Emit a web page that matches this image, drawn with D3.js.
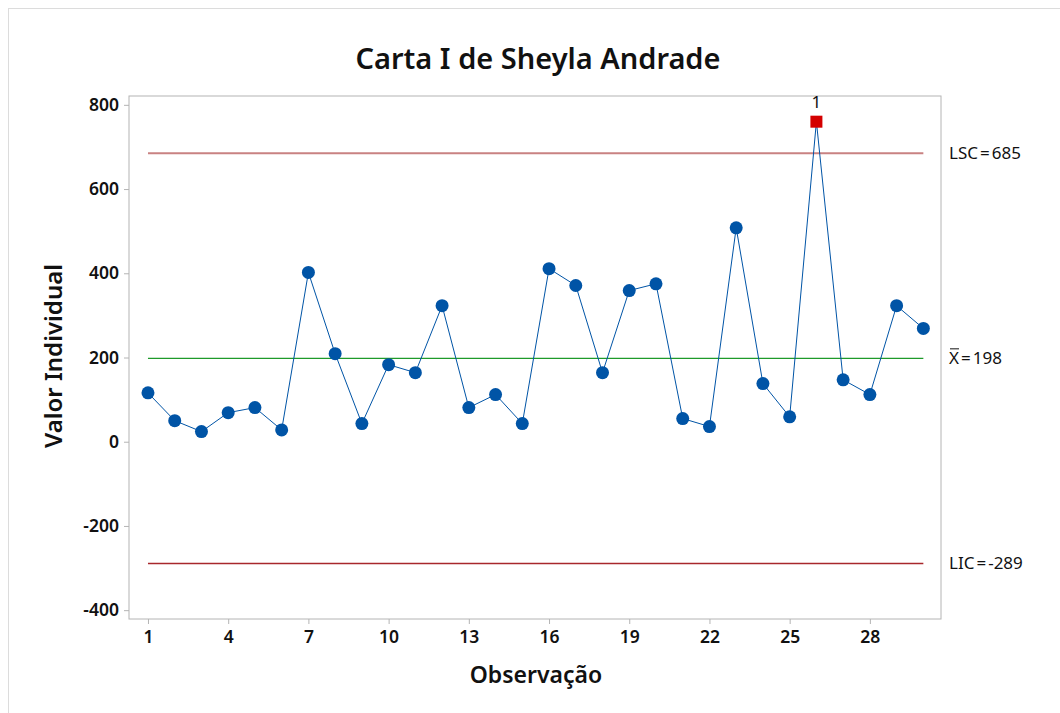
<!DOCTYPE html>
<html>
<head>
<meta charset="utf-8">
<script src="https://cdn.jsdelivr.net/npm/d3@7"></script>
<style>
	body { margin: 0; background: #fff; }
	svg { display: block; font-family: "Noto Sans", "Open Sans", sans-serif; }
</style>
</head>
<body>
<svg id="chart" width="1060" height="713"></svg>
<script>
// observacoes (Carta I)
var observations = d3.range(1, 31);
var values = [116, 50, 24, 69, 81, 28, 402, 209, 43, 183,
	164, 323, 81, 112, 43, 411, 371, 164, 359, 375,
	55, 36, 508, 138, 59, 760, 147, 112, 323, 269];
var xTicks = [1, 4, 7, 10, 13, 16, 19, 22, 25, 28];
var yTicks = [-400, -200, 0, 200, 400, 600, 800];
var limitNames = ["LSC", "X", "LIC"];
var limitValues = [685, 198, -289];
var flagged = [26]; // ponto fora de controle (teste 1)

var svg = d3.select("#chart");

var margin = {left: 129, right: 1060 - 941, top: 96, bottom: 713 - 619};
var width = 1060 - margin.left - margin.right;
var height = 713 - margin.top - margin.bottom;

// outer graph border
svg.append("rect")
	.attr("x", 8.5).attr("y", 8.5)
	.attr("width", 1100).attr("height", 1000)
	.style("fill", "none")
	.style("stroke", "#dcdcdc");

var x = d3.scaleLinear()
	.domain([0.29, 30.66])
	.range([margin.left, margin.left + width]);

var y = d3.scaleLinear()
	.domain([-421, 821])
	.range([margin.top + height, margin.top]);

// frame
svg.append("rect")
	.attr("x", margin.left).attr("y", margin.top)
	.attr("width", width).attr("height", height)
	.style("fill", "none")
	.style("stroke", "#b4b4b4");

var xAxis = svg.append("g")
	.attr("transform", "translate(0," + (margin.top + height) + ")")
	.call(d3.axisBottom(x).tickValues(xTicks).tickSize(5).tickPadding(7)
		.tickFormat((d) => String(d)));

var yAxis = svg.append("g")
	.attr("transform", "translate(" + margin.left + ",0)")
	.call(d3.axisLeft(y).tickValues(yTicks).tickSize(5).tickPadding(5)
		.tickFormat((d) => String(d)));

[xAxis, yAxis].forEach((g) => {
	g.select(".domain").remove();
	g.selectAll("line").style("stroke", "#b4b4b4");
	g.selectAll("text")
		.style("font-size", "17.5px")
		.style("font-weight", 600)
		.style("font-family", "'Noto Sans', sans-serif")
		.style("fill", "#111");
});

// control limits
var limitColors = ["#c98282", "#1e9a2a", "#a8282c"];
var limitWidths = [2, 1.3, 1.5];

svg.selectAll(".limit")
	.data(limitValues)
.enter().append("line")
	.attr("class", "limit")
	.attr("x1", x(1))
	.attr("x2", x(30))
	.attr("y1", (d) => y(d))
	.attr("y2", (d) => y(d))
	.style("stroke", (d, i) => limitColors[i])
	.style("stroke-width", (d, i) => limitWidths[i]);

var limitLabels = svg.selectAll(".limitLabel")
	.data(limitValues)
.enter().append("text")
	.attr("class", "limitLabel")
	.attr("x", 949)
	.attr("y", (d) => y(d) + 6)
	.style("font-size", "17px")
	.style("fill", "#111");

limitLabels.each(function(d, i) {
	var t = d3.select(this);
	t.append("tspan").text(limitNames[i]);
	t.append("tspan").attr("dx", 2).text("=");
	t.append("tspan").attr("dx", 2).text(d);
});

// bar over the X of the mean
svg.append("line")
	.attr("x1", 950)
	.attr("x2", 959)
	.attr("y1", y(limitValues[1]) - 9.5)
	.attr("y2", y(limitValues[1]) - 9.5)
	.style("stroke", "#111")
	.style("stroke-width", 1);

// data line
var line = d3.line()
	.x((d, i) => x(observations[i]))
	.y((d) => y(d));

svg.append("path")
	.datum(values)
	.attr("d", line)
	.style("fill", "none")
	.style("stroke", "#0054a6")
	.style("stroke-width", 1);

var points = values.map((d, i) => ({obs: observations[i], val: d}));

svg.selectAll(".pt")
	.data(points.filter((p) => flagged.indexOf(p.obs) < 0))
.enter().append("circle")
	.attr("class", "pt")
	.attr("cx", (d) => x(d.obs))
	.attr("cy", (d) => y(d.val))
	.attr("r", 6.5)
	.style("fill", "#0054a6");

flagged.forEach((obs) => {
	var v = values[obs - 1];
	svg.append("rect")
		.attr("x", x(obs) - 6)
		.attr("y", y(v) - 6)
		.attr("width", 12)
		.attr("height", 12)
		.style("fill", "#d40000");
	svg.append("text")
		.attr("x", x(obs))
		.attr("y", y(v) - 14)
		.attr("text-anchor", "middle")
		.style("font-size", "17px")
		.style("fill", "#111")
		.text("1");
});

// titles
svg.append("text")
	.attr("x", 538)
	.attr("y", 69)
	.attr("text-anchor", "middle")
	.style("font-size", "29px")
	.style("font-weight", 600)
	.style("fill", "#111")
	.text("Carta I de Sheyla Andrade");

svg.append("text")
	.attr("x", 536)
	.attr("y", 683)
	.attr("text-anchor", "middle")
	.style("font-size", "23px")
	.style("font-weight", 600)
	.style("fill", "#111")
	.text("Observação");

svg.append("text")
	.attr("transform", "translate(62,356) rotate(-90)")
	.attr("text-anchor", "middle")
	.style("font-size", "24px")
	.style("font-weight", 600)
	.style("fill", "#111")
	.text("Valor Individual");
</script>
</body>
</html>
